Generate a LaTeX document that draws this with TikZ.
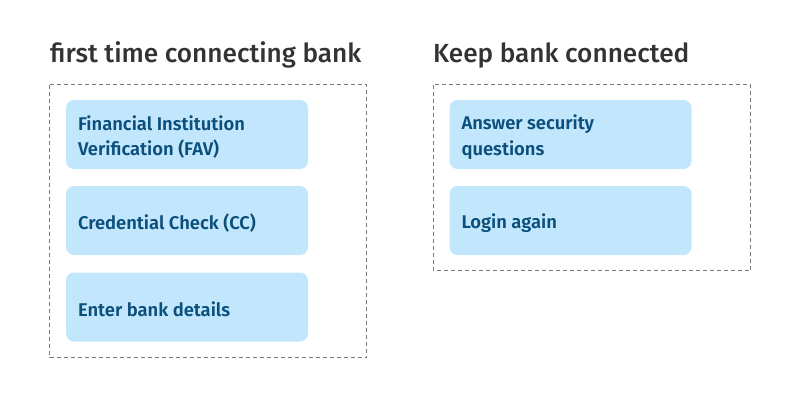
\documentclass[tikz,border=0pt]{standalone}
\usepackage{fontspec}
\setmainfont{Fira Sans}[BoldFont={Fira Sans SemiBold}]
\newfontfamily\semib{Fira Sans SemiBold}
\newfontfamily\medf{Fira Sans Medium}
\definecolor{boxfill}{HTML}{C2E7FD}
\definecolor{boxtext}{HTML}{0B4F7C}
\definecolor{titlec}{HTML}{333333}
\definecolor{dashc}{HTML}{7A7A7A}
\begin{document}
\begin{tikzpicture}[x=1pt,y=-1pt,
  group/.style={draw=dashc,line width=1pt,dash pattern=on 4pt off 3pt},
  stepbox/.style={rectangle,rounded corners=8pt,fill=boxfill,minimum width=242pt,minimum height=69pt,inner sep=0pt},
  steptext/.style={anchor=west,inner sep=0pt,align=left,text=boxtext,
    font=\semib\fontsize{18.4}{25.7}\selectfont},
  title/.style={anchor=base west,inner sep=0pt,text=titlec,font=\medf\fontsize{26.2}{32}\selectfont}]
\useasboundingbox (0,0) rectangle (800,407);
\node[title] (t1) at (50,62) {first time connecting bank};
\node[title] (t2) at (433,62) {Keep bank connected};
\draw[group] (49.5,84.5) rectangle (366.5,357.5);
\draw[group] (433.5,84.5) rectangle (750.5,270.5);
\node[stepbox] (fav) at (187,134.5) {};
\node[stepbox] (cc) at (187,220.5) {};
\node[stepbox] (ebd) at (187,307) {};
\node[stepbox] (asq) at (570.5,134.5) {};
\node[stepbox] (la) at (570.5,220.5) {};
\node[steptext] (favt) at ([xshift=12pt,yshift=-2.5pt]fav.west) {Financial Institution\\Verification (FAV)};
\node[steptext] (cct) at ([xshift=12pt,yshift=-2.5pt]cc.west) {Credential Check (CC)};
\node[steptext] (ebdt) at ([xshift=12pt,yshift=-2.5pt]ebd.west) {Enter bank details};
\node[steptext] (asqt) at ([xshift=12pt,yshift=-2.5pt]asq.west) {Answer security\\questions};
\node[steptext] (lat) at ([xshift=12pt,yshift=-2.5pt]la.west) {Login again};
\end{tikzpicture}
\end{document}
